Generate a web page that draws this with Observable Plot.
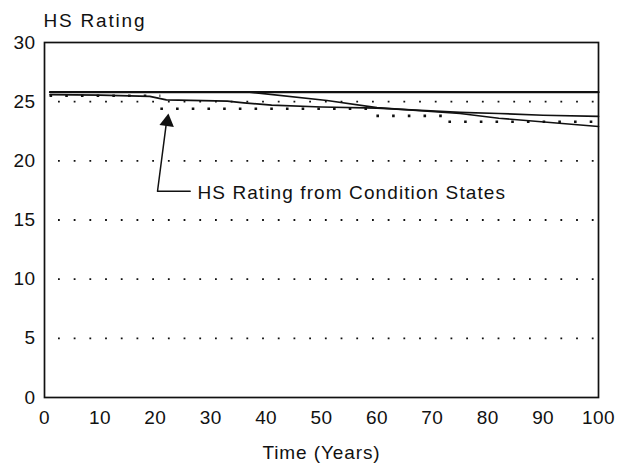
<!DOCTYPE html>
<html><head><meta charset="utf-8">
<script src="https://cdn.jsdelivr.net/npm/d3@7"></script>
<script src="https://cdn.jsdelivr.net/npm/@observablehq/plot@0.6"></script>
<style>
body{margin:0;background:#fff}
#chart svg{display:block}
</style>
</head><body><div id="chart"></div>
<script>
// tick labels
const xTicks = [0,10,20,30,40,50,60,70,80,90,100];
const yTicks = [0,5,10,15,20,25,30];
const gridValues = [5,10,15,20,25];

// flat line (top)
const flatYears = [1,100];
const flatValues = [25.8,25.8];

// late-decaying line
const lateYears = [1,37,51,60,75,82,100];
const lateValues = [25.8,25.8,25.1,24.5,24.0,23.6,22.9];

// gradually decaying line
const gradYears = [1,10,19,22,33,36,41,50,60,75,82,90,100];
const gradValues = [25.6,25.55,25.45,25.15,25.05,24.9,24.7,24.55,24.45,24.1,24.0,23.85,23.75];

// HS rating from condition states (dotted levels)
const condStart = [1,21,60,73];
const condEnd = [21,60,73,100];
const condValues = [25.5,24.4,23.8,23.3];

// annotation
const annoText = ["HS Rating from Condition States"];
const annoTextX = [27.6];
const annoTextY = [17.3];
const leaderX = [22.0,20.4,26.3];
const leaderY = [23.2,17.43,17.43];
const headX = [22.16];
const headY = [23.29];

const titleText = "HS Rating";
const xLabelText = "Time (Years)";

const toRows = (xs, ys) => xs.map((x,i)=>({x, y: ys[i]}));
const condRows = condValues.map((v,i)=>({x1: condStart[i], x2: condEnd[i], y: v}));

const chart = Plot.plot({
  width: 620,
  height: 464,
  marginLeft: 44,
  marginRight: 22,
  marginTop: 42,
  marginBottom: 67,
  style: {fontFamily: "'Liberation Sans', Arial, Helvetica, sans-serif", fontSize: "19px", color: "#111", background: "#fff"},
  x: {domain: [0,100]},
  y: {domain: [0,30]},
  marks: [
    Plot.ruleY(gridValues, {stroke: "#111", strokeWidth: 1.8, strokeDasharray: "1.8,13.9", strokeDashoffset: -14}),
    Plot.axisX({ticks: xTicks, tickSize: 0, tickPadding: 13, label: null, fontSize: 19}),
    Plot.axisY({ticks: yTicks, tickSize: 0, tickPadding: 9, label: null, fontSize: 19}),
    Plot.ruleY(condRows, {x1: "x1", x2: "x2", y: "y", stroke: "#111", strokeWidth: 2.6, strokeDasharray: "2.6,13.1"}),
    Plot.line(toRows(gradYears, gradValues), {x: "x", y: "y", stroke: "#111", strokeWidth: 1.7}),
    Plot.line(toRows(lateYears, lateValues), {x: "x", y: "y", stroke: "#111", strokeWidth: 1.7}),
    Plot.line(toRows(flatYears, flatValues), {x: "x", y: "y", stroke: "#111", strokeWidth: 2.3}),
    Plot.line(toRows(leaderX, leaderY), {x: "x", y: "y", stroke: "#111", strokeWidth: 1.5}),
    Plot.dot(toRows(headX, headY), {x: "x", y: "y", symbol: "triangle", r: 5.4, fill: "#111", stroke: "none", rotate: 8}),
    Plot.text(annoText, {x: annoTextX, y: annoTextY, text: d => d, textAnchor: "start", lineAnchor: "middle", fontSize: 19, fill: "#111"}),
    Plot.text([titleText], {frameAnchor: "top-left", dx: -1, dy: -22, text: d => d, textAnchor: "start", lineAnchor: "middle", fontSize: 19, fill: "#111"}),
    Plot.text([xLabelText], {frameAnchor: "bottom", dy: 55, text: d => d, lineAnchor: "middle", fontSize: 19, fill: "#111"}),
    Plot.frame({stroke: "#111", strokeWidth: 1.7})
  ]
});

// letter spacing to match the scanned typeface
chart.querySelectorAll("text").forEach(t => {
  const s = t.textContent;
  if (s === titleText) t.setAttribute("letter-spacing", "1.8");
  else if (s === annoText[0]) t.setAttribute("letter-spacing", "1.1");
  else if (s === xLabelText) t.setAttribute("letter-spacing", "0.9");
  else t.setAttribute("letter-spacing", "0.4");
});
document.getElementById("chart").appendChild(chart);
</script>
</body></html>
